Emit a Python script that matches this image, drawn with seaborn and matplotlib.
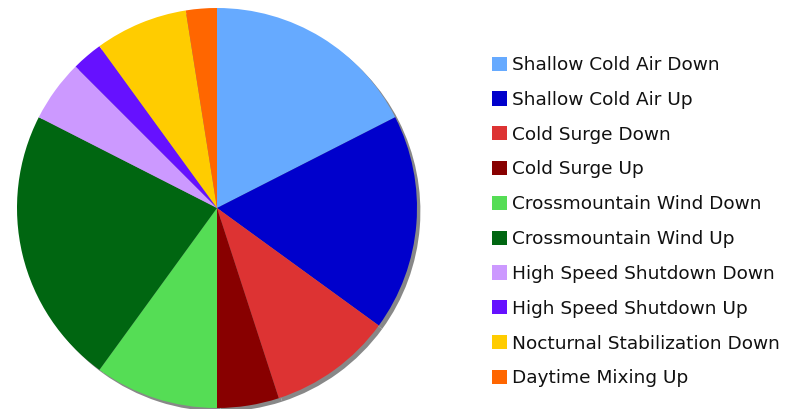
import matplotlib
matplotlib.use('Agg')
import matplotlib.pyplot as plt
import seaborn as sns

labels = ['Shallow Cold Air Down', 'Shallow Cold Air Up', 'Cold Surge Down', 'Cold Surge Up',
          'Crossmountain Wind Down', 'Crossmountain Wind Up', 'High Speed Shutdown Down',
          'High Speed Shutdown Up', 'Nocturnal Stabilization Down', 'Daytime Mixing Up']
counts = [7, 7, 4, 2, 4, 9, 2, 1, 3, 1]
colors = ['#66AAFF', '#0000CC', '#DD3333', '#880000', '#55DD55',
          '#006611', '#CC99FF', '#6611FF', '#FFCC00', '#FF6600']

sns.set_theme(style='white')
plt.rcParams['font.family'] = ['DejaVu Sans']

fig = plt.figure(figsize=(7.9, 4.09), dpi=100)
ax = fig.add_axes([17 / 790, 1 / 409, 400 / 790, 400 / 409])

# gray shadow under the pie
ax.pie(counts, colors=['#888888'] * len(counts), startangle=90, counterclock=False,
       center=(0.017, -0.017), wedgeprops={'linewidth': 0})
wedges, _ = ax.pie(counts, colors=colors, startangle=90, counterclock=False,
                   wedgeprops={'linewidth': 0})
for w in ax.patches:
    w.set_clip_on(False)
ax.set_xlim(-1, 1)
ax.set_ylim(-1, 1)
ax.set_aspect('equal')
ax.axis('off')

leg = fig.legend(wedges, labels, loc='upper left', bbox_to_anchor=(486.5 / 790, 1 - 50.5 / 409),
                 frameon=False, fontsize=13.3, handlelength=0.81, handleheight=0.81,
                 handletextpad=0.27, labelspacing=0.91, borderaxespad=0, borderpad=0.3)
for t in leg.get_texts():
    t.set_color('#111111')

fig.savefig('out.png', dpi=100, facecolor='white')
